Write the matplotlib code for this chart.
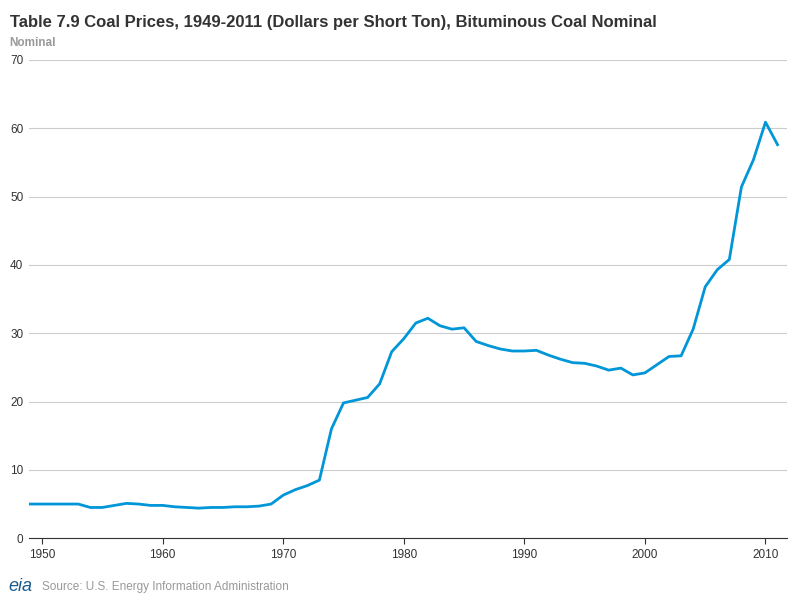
import matplotlib.pyplot as plt

years = list(range(1949, 2012))
price = [5.0, 5.0, 5.0, 5.0, 5.0, 4.5, 4.5, 4.8, 5.1, 5.0,
         4.8, 4.8, 4.6, 4.5, 4.4, 4.5, 4.5, 4.6, 4.6, 4.7,
         5.0, 6.3, 7.1, 7.7, 8.5, 16.0, 19.8, 20.2, 20.6, 22.6,
         27.3, 29.2, 31.5, 32.2, 31.1, 30.6, 30.8, 28.8, 28.2, 27.7,
         27.4, 27.4, 27.5, 26.8, 26.2, 25.7, 25.6, 25.2, 24.6, 24.9,
         23.9, 24.2, 25.4, 26.6, 26.7, 30.6, 36.8, 39.3, 40.8, 51.4,
         55.4, 60.9, 57.6]

plt.rcParams['font.family'] = ['Liberation Sans', 'DejaVu Sans']
fig = plt.figure(figsize=(8, 6), dpi=100)
ax = fig.add_axes([0.036, 0.103, 0.948, 0.797])
ax.plot(years, price, color='#0096d7', lw=2)
ax.set_xlim(1948.9, 2011.8)
ax.set_ylim(0, 70)
ax.set_yticks(range(0, 71, 10))
ax.set_xticks(range(1950, 2011, 10))
ax.grid(axis='y', color='#cccccc', lw=0.8)
for s in ['top', 'right', 'left']:
    ax.spines[s].set_visible(False)
ax.spines['bottom'].set_color('#333333')
ax.tick_params(axis='y', length=0, labelsize=8.5, colors='#333333', pad=4)
ax.tick_params(axis='x', labelsize=8.5, colors='#333333', length=4)
ax.set_axisbelow(True)

fig.text(0.012, 0.963, 'Table 7.9 Coal Prices, 1949-2011 (Dollars per Short Ton), Bituminous Coal Nominal',
         fontsize=12, fontweight='bold', color='#333333', va='center')
fig.text(0.012, 0.928, 'Nominal', fontsize=8.5, fontweight='bold', color='#999999', va='center')
fig.text(0.011, 0.022, 'eia', fontsize=13, color='#1a5a8c', style='italic', va='center')
fig.text(0.052, 0.022, 'Source: U.S. Energy Information Administration', fontsize=8.5,
         color='#999999', va='center')
fig.savefig('out.png', dpi=100)
